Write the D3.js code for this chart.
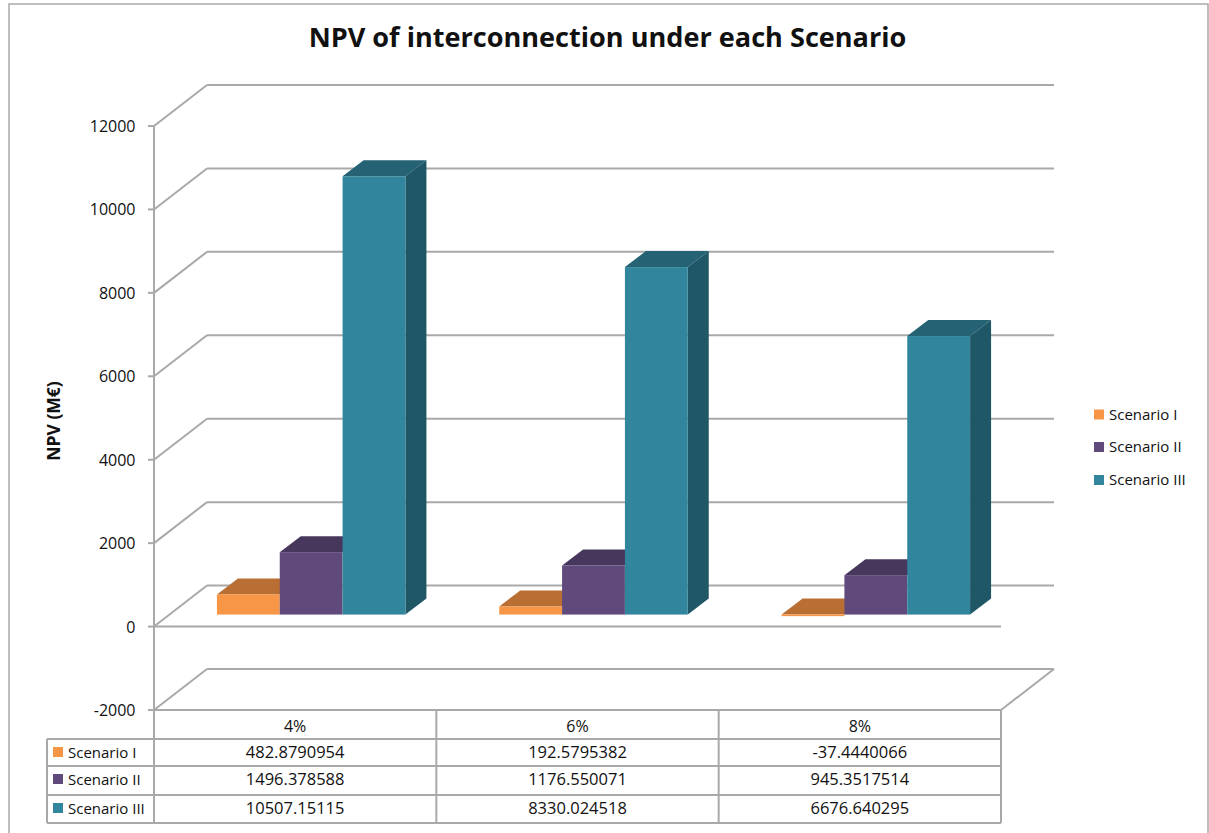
<!DOCTYPE html>
<html>
<head>
<meta charset="utf-8">
<script src="https://cdn.jsdelivr.net/npm/d3@7"></script>
<style>
body { margin: 0; background: #fff; }
text { font-family: "Open Sans", sans-serif; fill: #111; }
</style>
</head>
<body>
<div id="chart"></div>
<script>
const width = 1209
const height = 833

const categories = ["4%", "6%", "8%"]
const seriesNames = ["Scenario I", "Scenario II", "Scenario III"]
const scenarioI = [482.8790954, 192.5795382, -37.4440066]
const scenarioII = [1496.378588, 1176.550071, 945.3517514]
const scenarioIII = [10507.15115, 8330.024518, 6676.640295]
const tableLabels = [
    ["482.8790954", "192.5795382", "-37.4440066"],
    ["1496.378588", "1176.550071", "945.3517514"],
    ["10507.15115", "8330.024518", "6676.640295"]
]
const yTicks = [-2000, 0, 2000, 4000, 6000, 8000, 10000, 12000]

const seriesValues = [scenarioI, scenarioII, scenarioIII]
const frontColors = ["#f79646", "#604a7b", "#31859c"]
const topColors = ["#b96f33", "#47375c", "#246274"]
const sideColors = ["#a6642d", "#3f3152", "#205766"]
const gridColor = "#a9a9a9"

const left = 154, right = 1001
const wallDx = 53, wallDy = -41
const barDx = 16, barDy = -12
const depthDx = 21, depthDy = -16

const svg = d3.select("#chart").append("svg")
    .attr("width", width)
    .attr("height", height)
    .style("display", "block")

const y = d3.scaleLinear().domain([-2000, 12000]).range([710, 126])
const x0 = d3.scaleBand().domain(categories).range([left, right]).paddingInner(0).paddingOuter(0)
const groupWidth = 188.5
const x1 = d3.scaleBand().domain(d3.range(3)).range([0, groupWidth])

function gline(x1, y1, x2, y2, w) {
    svg.append("line")
        .attr("x1", x1).attr("y1", y1)
        .attr("x2", x2).attr("y2", y2)
        .attr("stroke", gridColor)
        .attr("stroke-width", w || 2)
}

// chart frame
svg.append("rect")
    .attr("x", 9).attr("y", 4)
    .attr("width", 1199).attr("height", 840)
    .attr("fill", "#fff")
    .attr("stroke", gridColor)
    .attr("stroke-width", 1.5)

svg.append("text")
    .text("NPV of interconnection under each Scenario")
    .attr("x", 607.5)
    .attr("y", 47)
    .attr("text-anchor", "middle")
    .style("font-size", "27.1px")
    .style("font-weight", 700)

svg.append("text")
    .text("NPV (M€)")
    .attr("transform", `translate(60,${y(5000) + 3}) rotate(-90)`)
    .attr("text-anchor", "middle")
    .style("font-size", "17.5px")
    .style("font-weight", 700)

// walls and gridlines
yTicks.forEach(t => {
    gline(left, y(t), left + wallDx, y(t) + wallDy)
    gline(left + wallDx, y(t) + wallDy, right + wallDx, y(t) + wallDy, 2)
    gline(left - 6, y(t), left, y(t))
    svg.append("text")
        .text(t)
        .attr("x", 135.5)
        .attr("y", y(t) + 6)
        .attr("text-anchor", "end")
        .style("font-size", "16px")
})
gline(left, y(12000), left, y(-2000))
gline(left, y(0), right, y(0))
gline(right, y(-2000), right + wallDx, y(-2000) + wallDy)

// bars, back to front within each group
categories.forEach((c, ci) => {
    const start = x0(c) + (x0.bandwidth() - groupWidth) / 2 + barDx
    seriesValues.forEach((values, si) => {
        const xa = start + x1(si)
        const xb = xa + x1.bandwidth()
        const top = y(Math.max(values[ci], 0)) + barDy
        const bottom = y(Math.min(values[ci], 0)) + barDy
        svg.append("polygon")
            .attr("points", [[xa, top], [xa + depthDx, top + depthDy], [xb + depthDx, top + depthDy], [xb, top]].join(" "))
            .attr("fill", topColors[si])
        if (si === seriesValues.length - 1) {
            svg.append("polygon")
                .attr("points", [[xb, top], [xb + depthDx, top + depthDy], [xb + depthDx, bottom + depthDy], [xb, bottom]].join(" "))
                .attr("fill", sideColors[si])
        }
        svg.append("rect")
            .attr("x", xa)
            .attr("y", top)
            .attr("width", x1.bandwidth())
            .attr("height", bottom - top)
            .attr("fill", frontColors[si])
    })
})

// legend
const legendY = [414.5, 447, 480]
seriesNames.forEach((name, i) => {
    svg.append("rect")
        .attr("x", 1094).attr("y", legendY[i] - 5)
        .attr("width", 10).attr("height", 10)
        .attr("fill", frontColors[i])
    svg.append("text")
        .text(name)
        .attr("x", 1109)
        .attr("y", legendY[i] + 5)
        .style("font-size", "15px")
})

// data table
const tableLeft = 47
const rows = [710, 739, 766, 795, 823]
const cols = [left, x0("6%"), x0("8%"), right]
gline(cols[0], rows[0], right, rows[0])
rows.slice(1).forEach(r => gline(tableLeft, r, right, r))
cols.forEach(c => gline(c, rows[0], c, rows[4]))
gline(tableLeft, rows[1], tableLeft, rows[4])

categories.forEach((c, ci) => {
    svg.append("text")
        .text(c)
        .attr("x", x0(c) + x0.bandwidth() / 2)
        .attr("y", rows[0] + 22)
        .attr("text-anchor", "middle")
        .style("font-size", "16px")
    tableLabels.forEach((row, ri) => {
        svg.append("text")
            .text(row[ci])
            .attr("x", x0(c) + x0.bandwidth() / 2)
            .attr("y", rows[ri + 1] + 19)
            .attr("text-anchor", "middle")
            .style("font-size", "16.5px")
    })
})
seriesNames.forEach((name, i) => {
    svg.append("rect")
        .attr("x", 53).attr("y", rows[i + 1] + 8)
        .attr("width", 10).attr("height", 10)
        .attr("fill", frontColors[i])
    svg.append("text")
        .text(name)
        .attr("x", 68)
        .attr("y", rows[i + 1] + 19)
        .style("font-size", "15px")
})
</script>
</body>
</html>
